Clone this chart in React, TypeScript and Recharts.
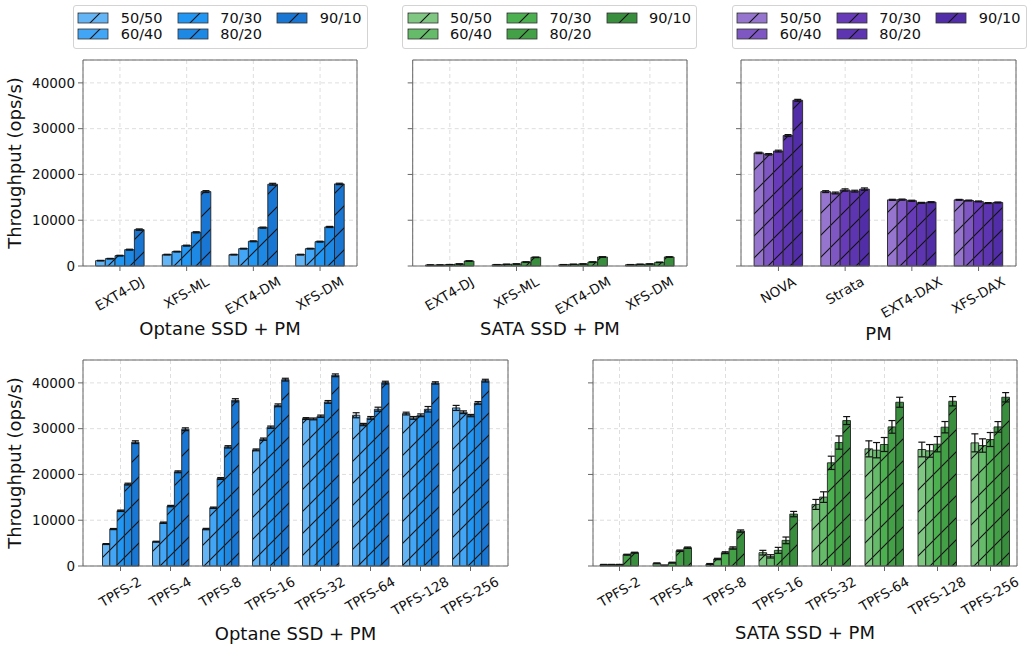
import React from "react";
import { BarChart, Bar, XAxis, YAxis, CartesianGrid, ErrorBar } from "recharts";

const W = 1030;
const H = 647;
const FONT = "DejaVu Sans, sans-serif";
const TICK_FS = 13.5;

const ratios = ["50/50", "60/40", "70/30", "80/20", "90/10"];
const blues = ["#64B5F6", "#42A5F5", "#2196F3", "#1E88E5", "#1976D2"];
const greens = ["#81C784", "#66BB6A", "#4CAF50", "#43A047", "#388E3C"];
const purples = ["#9575CD", "#7E57C2", "#673AB7", "#5E35B1", "#512DA8"];
const yTicks = [0, 10000, 20000, 30000, 40000];

const hybridFs = ["EXT4-DJ", "XFS-ML", "EXT4-DM", "XFS-DM"];
const pmFs = ["NOVA", "Strata", "EXT4-DAX", "XFS-DAX"];
const tpfsCfg = ["TPFS-2", "TPFS-4", "TPFS-8", "TPFS-16", "TPFS-32", "TPFS-64", "TPFS-128", "TPFS-256"];

// rows = file system, columns = read/write ratio
const optaneHybrid = [
  [1170, 1600, 2260, 3570, 7950],
  [2480, 3140, 4450, 7360, 16260],
  [2480, 3790, 5400, 8380, 17860],
  [2480, 3790, 5320, 8530, 17930],
];
const optaneHybridErr = [
  [60, 60, 80, 100, 150],
  [80, 80, 100, 120, 200],
  [80, 80, 100, 120, 200],
  [80, 80, 100, 120, 150],
];

const sataHybrid = [
  [220, 220, 300, 440, 1090],
  [290, 365, 440, 875, 1900],
  [290, 365, 440, 875, 1970],
  [290, 365, 440, 800, 1970],
];
const sataHybridErr = [
  [30, 30, 30, 40, 60],
  [30, 30, 30, 40, 60],
  [30, 30, 30, 40, 60],
  [30, 30, 30, 40, 60],
];

const pmOnly = [
  [24700, 24400, 25100, 28500, 36200],
  [16250, 15950, 16600, 16350, 16800],
  [14450, 14500, 14250, 13800, 13950],
  [14450, 14300, 14100, 13750, 13880],
];
const pmOnlyErr = [
  [150, 150, 200, 200, 200],
  [200, 200, 250, 200, 250],
  [120, 120, 120, 100, 100],
  [100, 100, 100, 100, 100],
];

const optaneTpfs = [
  [4800, 8070, 12070, 17890, 27050],
  [5310, 9450, 13090, 20580, 29880],
  [8070, 12720, 19120, 26030, 36200],
  [25370, 27700, 30320, 35110, 40710],
  [32210, 32130, 32720, 35840, 41660],
  [32930, 30900, 32350, 34240, 40060],
  [33300, 32350, 32930, 34240, 39990],
  [34530, 33590, 32860, 35620, 40490],
];
const optaneTpfsErr = [
  [100, 120, 150, 200, 300],
  [100, 150, 150, 200, 300],
  [150, 150, 200, 250, 350],
  [200, 250, 250, 300, 300],
  [200, 200, 250, 300, 300],
  [550, 250, 300, 450, 300],
  [300, 300, 300, 600, 250],
  [550, 300, 250, 300, 300],
];

const sataTpfs = [
  [290, 290, 290, 2470, 2910],
  [580, 150, 730, 3340, 4000],
  [440, 1530, 2910, 3930, 7630],
  [2910, 2110, 3420, 5600, 11340],
  [13450, 15050, 22540, 26970, 31770],
  [25590, 25300, 26540, 30390, 35770],
  [25450, 25150, 26610, 30320, 35990],
  [26900, 26320, 27630, 30390, 36860],
];
const sataTpfsErr = [
  [60, 60, 60, 100, 100],
  [100, 60, 100, 150, 150],
  [100, 150, 200, 250, 250],
  [510, 360, 650, 730, 580],
  [1090, 1160, 1450, 1450, 870],
  [1750, 1670, 1530, 1380, 1090],
  [1600, 1380, 1670, 1240, 1020],
  [1970, 1460, 1530, 1160, 1020],
];

// approximate DejaVu Sans advance widths (em) for tick label layout
const GLYPH_W: Record<string, number> = {
  E: 0.632, X: 0.685, T: 0.611, D: 0.77, J: 0.295, F: 0.575, S: 0.635, M: 0.863,
  L: 0.557, N: 0.748, O: 0.787, V: 0.684, A: 0.684, P: 0.603,
  t: 0.392, r: 0.411, a: 0.613, "-": 0.361,
};
const textWidth = (s: string, fs: number) =>
  s.split("").reduce((acc, ch) => acc + (GLYPH_W[ch] ?? 0.636), 0) * fs;

function Hatch({ id, color }: { id: string; color: string }) {
  return (
    <pattern id={id} patternUnits="userSpaceOnUse" width={22} height={22}>
      <rect width={22} height={22} fill={color} />
      <path d="M-2,24 L24,-2 M-2,2 L2,-2 M20,24 L24,20" stroke="#111" strokeWidth={1.1} />
    </pattern>
  );
}

// rotated label, centred on the tick like matplotlib's ha="center"
function RotTick(props: any) {
  const { x, y, payload } = props;
  const w = textWidth(String(payload.value), TICK_FS);
  const half = (w * 0.5 + TICK_FS * 0.866) / 2;
  const cy = y + 4 + half;
  return (
    <text
      transform={`translate(${x},${cy}) rotate(-30)`}
      textAnchor="middle"
      dy="0.3em"
      fontSize={TICK_FS}
      fontFamily={FONT}
      fill="#111"
    >
      {payload.value}
    </text>
  );
}

interface PanelProps {
  id: string;
  cats: string[];
  vals: number[][];
  errs: number[][];
  colors: string[];
  x0: number;
  x1: number;
  y0: number;
  y1: number;
  pad: number;
  barSize: number;
  showY: boolean;
  title: string;
  titleY: number;
}

const AXIS_W = 60;
const AXIS_H = 30;

function Panel(p: PanelProps) {
  const data = p.cats.map((name, i) => {
    const row: Record<string, string | number> = { name };
    ratios.forEach((_, j) => {
      row[`v${j}`] = p.vals[i][j];
      row[`e${j}`] = p.errs[i][j];
    });
    return row;
  });
  const cx = (p.x0 + p.x1) / 2;
  const cy = (p.y0 + p.y1) / 2;

  return (
    <div style={{ position: "absolute", left: 0, top: 0 }}>
      <BarChart
        width={W}
        height={H}
        data={data}
        barGap={0}
        barSize={p.barSize}
        margin={{
          top: p.y0 - 1,
          right: W - p.x1 - 1,
          bottom: H - p.y1 - AXIS_H,
          left: p.x0 - AXIS_W,
        }}
      >
        <defs>
          {p.colors.map((c, j) => (
            <Hatch key={c} id={`${p.id}-${j}`} color={c} />
          ))}
        </defs>
        <CartesianGrid stroke="#d6d6d6" strokeDasharray="4 3" strokeWidth={0.8} />
        <XAxis
          dataKey="name"
          interval={0}
          padding={{ left: p.pad, right: p.pad }}
          height={AXIS_H}
          tickSize={5}
          tickMargin={0}
          stroke="#666"
          tick={<RotTick />}
          label={() => (
            <text x={cx} y={p.titleY} textAnchor="middle" fontSize={18} fontFamily={FONT} fill="#111">
              {p.title}
            </text>
          )}
        />
        <XAxis xAxisId="top" orientation="top" dataKey="name" height={1} tick={false} tickLine={false} stroke="#666" />
        <YAxis
          domain={[0, 45000]}
          ticks={yTicks}
          width={AXIS_W}
          tickSize={5}
          tickMargin={3}
          stroke="#666"
          tick={p.showY ? { fill: "#111", fontSize: TICK_FS, fontFamily: FONT } : () => null}
          label={
            p.showY
              ? () => (
                  <text
                    x={21}
                    y={cy}
                    transform={`rotate(-90, 21, ${cy})`}
                    textAnchor="middle"
                    fontSize={18}
                    fontFamily={FONT}
                    fill="#111"
                  >
                    Throughput (ops/s)
                  </text>
                )
              : undefined
          }
        />
        <YAxis yAxisId="right" orientation="right" domain={[0, 45000]} width={1} tick={false} tickLine={false} stroke="#666" />
        {ratios.map((r, j) => (
          <Bar
            key={r}
            dataKey={`v${j}`}
            name={r}
            fill={`url(#${p.id}-${j})`}
            stroke="#222"
            strokeWidth={0.9}
            isAnimationActive={false}
          >
            <ErrorBar dataKey={`e${j}`} width={3.5} stroke="#111" strokeWidth={1.2} isAnimationActive={false} />
          </Bar>
        ))}
      </BarChart>
    </div>
  );
}

function LegendBox({ left, colors, id }: { left: number; colors: string[]; id: string }) {
  return (
    <div
      style={{
        position: "absolute",
        left,
        top: 5,
        width: 293,
        height: 42,
        border: "1px solid #d3d3d3",
        borderRadius: 3,
        background: "#fff",
      }}
    >
      {ratios.map((r, j) => {
        const col = Math.floor(j / 2);
        const row = j % 2;
        const sx = 4.6 + col * 99.5;
        const sy = 6.7 + row * 16.6;
        return (
          <React.Fragment key={r}>
            <svg width={30} height={10} style={{ position: "absolute", left: sx, top: sy, overflow: "visible" }}>
              <defs>
                <Hatch id={`lg-${id}-${j}`} color={colors[j]} />
              </defs>
              <rect x={0} y={0} width={30} height={10} fill={`url(#lg-${id}-${j})`} stroke="#333" strokeWidth={0.8} />
            </svg>
            <div
              style={{
                position: "absolute",
                left: sx + 42.5,
                top: sy - 4,
                lineHeight: "18px",
                fontSize: 14.5,
                fontFamily: FONT,
                color: "#111",
                whiteSpace: "nowrap",
              }}
            >
              {r}
            </div>
          </React.Fragment>
        );
      })}
    </div>
  );
}

export default function App() {
  return (
    <div style={{ position: "absolute", left: 0, top: 0, width: W, height: H, background: "#fff" }}>
      <Panel id="p1" cats={hybridFs} vals={optaneHybrid} errs={optaneHybridErr} colors={blues}
        x0={83} x1={357} y0={60} y1={266} pad={3.6} barSize={9.7} showY title="Optane SSD + PM" titleY={335} />
      <Panel id="p2" cats={hybridFs} vals={sataHybrid} errs={sataHybridErr} colors={greens}
        x0={412.7} x1={687} y0={60} y1={266} pad={3.75} barSize={9.7} showY={false} title="SATA SSD + PM" titleY={335} />
      <Panel id="p3" cats={pmFs} vals={pmOnly} errs={pmOnlyErr} colors={purples}
        x0={741} x1={1016} y0={60} y1={266} pad={4.1} barSize={9.7} showY={false} title="PM" titleY={339.5} />
      <Panel id="p4" cats={tpfsCfg} vals={optaneTpfs} errs={optaneTpfsErr} colors={blues}
        x0={83} x1={508} y0={360} y1={566} pad={12.5} barSize={7.3} showY title="Optane SSD + PM" titleY={639.5} />
      <Panel id="p5" cats={tpfsCfg} vals={sataTpfs} errs={sataTpfsErr} colors={greens}
        x0={593} x1={1017} y0={360} y1={566} pad={0} barSize={7.7} showY={false} title="SATA SSD + PM" titleY={639} />
      <LegendBox left={72.7} colors={blues} id="b" />
      <LegendBox left={402} colors={greens} id="g" />
      <LegendBox left={731.7} colors={purples} id="p" />
    </div>
  );
}
